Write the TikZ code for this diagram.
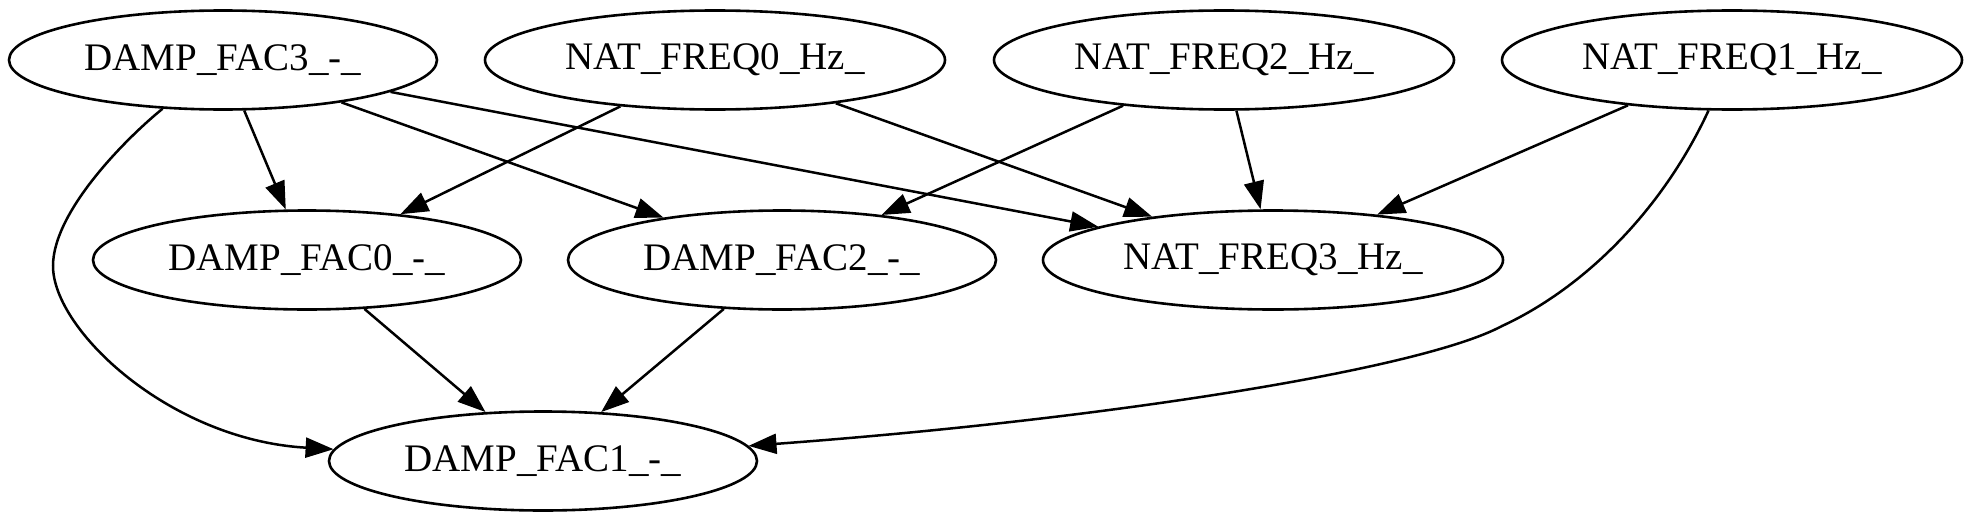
\documentclass[tikz,border=0pt]{standalone}
\usepackage{fontspec}
\setmainfont{Liberation Serif}
\usetikzlibrary{arrows.meta,shapes.geometric}
\begin{document}
\begin{tikzpicture}[x=1pt,y=-1pt,
  vnode/.style={draw, ellipse, line width=2.6pt, inner sep=0pt, minimum height=99pt,
    font=\fontsize{39}{45}\selectfont},
  dnode/.style={vnode, minimum width=428pt},
  fnode/.style={vnode, minimum width=460pt},
  edge/.style={line width=2.5pt, -{Triangle[length=28pt,width=20pt]}}]
\useasboundingbox (0,0) rectangle (1973,522);
\node[dnode] (d3) at (223,60) {DAMP\_FAC3\_-\_};
\node[fnode] (n0) at (715,60) {NAT\_FREQ0\_Hz\_};
\node[fnode] (n2) at (1224,60) {NAT\_FREQ2\_Hz\_};
\node[fnode] (n1) at (1732,60) {NAT\_FREQ1\_Hz\_};
\node[dnode] (d0) at (307,260) {DAMP\_FAC0\_-\_};
\node[dnode] (d2) at (782,260) {DAMP\_FAC2\_-\_};
\node[fnode] (n3) at (1273,260) {NAT\_FREQ3\_Hz\_};
\node[dnode] (d1) at (543,461) {DAMP\_FAC1\_-\_};
\coordinate (c1) at (53,266);
\coordinate (c2) at (1502,326);
\draw[edge] (d3) -- (d0);
\draw[edge] (d3) -- (d2);
\draw[edge] (d3) -- (n3);
\draw[edge] (d3) .. controls (130,135) and (53,210) .. (c1) .. controls (53,330) and (170,440) .. (d1);
\draw[edge] (n0) -- (d0);
\draw[edge] (n0) -- (n3);
\draw[edge] (n2) -- (d2);
\draw[edge] (n2) -- (n3);
\draw[edge] (n1) -- (n3);
\draw[edge] (n1) .. controls (1660,215) and (1580,290) .. (c2) .. controls (1420,370) and (1100,420) .. (d1);
\draw[edge] (d0) -- (d1);
\draw[edge] (d2) -- (d1);
\end{tikzpicture}
\end{document}
